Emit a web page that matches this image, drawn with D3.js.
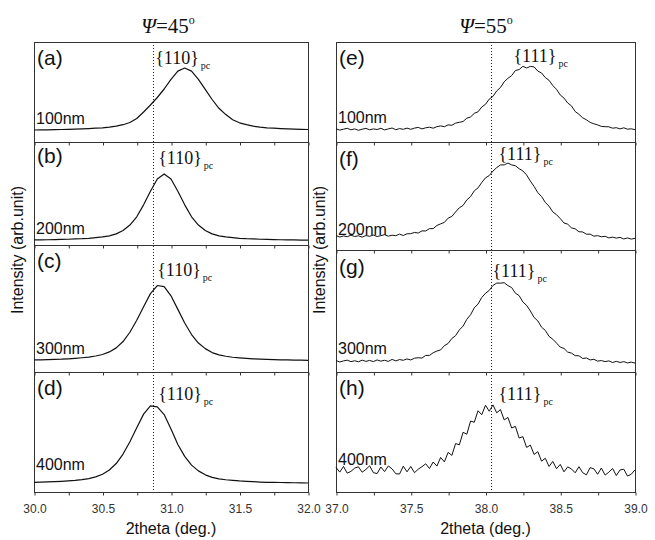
<!DOCTYPE html>
<html>
<head>
<meta charset="utf-8">
<script src="https://cdn.jsdelivr.net/npm/d3@7"></script>
<style>
  body { margin: 0; background: #fff; }
  svg { display: block; }
</style>
</head>
<body>
<svg id="chart" width="655" height="540"></svg>
<script>
// XRD 2theta scans at psi = 45 / 55 deg, films of 100-400 nm

// 2theta grids (deg.)
const thetaLeft = [
  30.00, 30.05, 30.10, 30.15, 30.20, 30.25, 30.30, 30.35, 30.40, 30.45,
  30.50, 30.55, 30.60, 30.65, 30.70, 30.75, 30.80, 30.85, 30.90, 30.95,
  31.00, 31.05, 31.10, 31.15, 31.20, 31.25, 31.30, 31.35, 31.40, 31.45,
  31.50, 31.55, 31.60, 31.65, 31.70, 31.75, 31.80, 31.85, 31.90, 31.95,
  32.00
];
const thetaRight = [
  37.000, 37.025, 37.050, 37.075, 37.100, 37.125, 37.150, 37.175, 37.200, 37.225,
  37.250, 37.275, 37.300, 37.325, 37.350, 37.375, 37.400, 37.425, 37.450, 37.475,
  37.500, 37.525, 37.550, 37.575, 37.600, 37.625, 37.650, 37.675, 37.700, 37.725,
  37.750, 37.775, 37.800, 37.825, 37.850, 37.875, 37.900, 37.925, 37.950, 37.975,
  38.000, 38.025, 38.050, 38.075, 38.100, 38.125, 38.150, 38.175, 38.200, 38.225,
  38.250, 38.275, 38.300, 38.325, 38.350, 38.375, 38.400, 38.425, 38.450, 38.475,
  38.500, 38.525, 38.550, 38.575, 38.600, 38.625, 38.650, 38.675, 38.700, 38.725,
  38.750, 38.775, 38.800, 38.825, 38.850, 38.875, 38.900, 38.925, 38.950, 38.975,
  39.000
];

// intensity (arb.unit, 0-100 per panel), psi = 45, {110}pc
const i110_100 = [
  12.0, 12.1, 12.2, 12.3, 12.5, 12.7, 12.9, 13.1, 13.4, 13.8,
  14.2, 14.9, 15.8, 17.3, 19.5, 23.5, 30.0, 37.0, 44.5, 53.0,
  62.7, 70.9, 74.0, 70.9, 62.7, 52.6, 42.5, 33.7, 27.4, 22.3,
  19.2, 17.3, 15.8, 14.9, 14.2, 13.8, 13.4, 13.1, 12.9, 12.7,
  12.5
];
const i110_200 = [
  4.9, 5.0, 5.1, 5.2, 5.4, 5.6, 5.9, 6.1, 6.5, 7.1,
  7.8, 8.9, 10.8, 14.0, 19.4, 27.4, 39.0, 52.2, 64.0, 69.0,
  64.0, 52.2, 39.0, 27.4, 19.4, 14.0, 10.8, 8.9, 7.8, 7.1,
  6.5, 6.1, 5.9, 5.6, 5.4, 5.2, 5.1, 5.0, 4.9, 4.8,
  4.7
];
const i110_300 = [
  9.5, 9.6, 9.8, 10.0, 10.1, 10.4, 10.8, 11.2, 11.7, 12.6,
  13.8, 15.8, 19.0, 24.0, 31.3, 40.7, 51.3, 61.7, 68.1, 67.2,
  60.0, 49.3, 38.6, 29.5, 22.8, 18.4, 15.3, 13.5, 12.4, 11.6,
  11.1, 10.7, 10.4, 10.1, 9.9, 9.7, 9.6, 9.5, 9.4, 9.3,
  9.2
];
const i110_400 = [
  8.0, 8.2, 8.4, 8.6, 8.9, 9.3, 9.7, 10.3, 11.2, 12.6,
  14.8, 18.3, 23.7, 31.6, 41.9, 53.5, 64.9, 71.8, 70.9, 64.5,
  52.5, 39.6, 29.7, 22.4, 17.6, 14.3, 12.2, 11.0, 10.2, 9.7,
  9.2, 8.9, 8.6, 8.3, 8.1, 8.0, 7.9, 7.8, 7.7, 7.6,
  7.5
];

// intensity (arb.unit, 0-100 per panel), psi = 55, {111}pc
const i111_100 = [
  13.2, 11.9, 12.8, 13.7, 12.2, 13.1, 11.7, 12.8, 13.6, 12.2,
  13.1, 12.5, 13.7, 12.1, 13.1, 14.0, 12.3, 13.4, 12.7, 13.9,
  12.7, 13.9, 14.6, 13.1, 14.2, 14.8, 13.8, 15.3, 16.1, 15.3,
  17.1, 16.7, 18.9, 19.7, 20.5, 23.8, 25.0, 28.7, 30.2, 35.0,
  37.7, 42.9, 45.6, 51.1, 54.5, 60.2, 63.7, 66.4, 71.5, 72.4,
  75.7, 74.0, 75.6, 75.1, 70.9, 69.0, 64.4, 61.7, 56.5, 52.7,
  47.0, 43.9, 39.0, 36.1, 30.5, 27.7, 24.2, 22.2, 19.6, 18.2,
  17.1, 15.6, 15.3, 15.2, 13.8, 14.3, 13.1, 14.2, 12.8, 13.2,
  12.3
];
const i111_200 = [
  13.3, 12.0, 13.0, 12.3, 13.7, 12.5, 13.2, 11.9, 13.4, 12.7,
  13.8, 12.5, 13.3, 14.2, 12.8, 13.7, 13.2, 14.7, 13.4, 15.0,
  15.1, 16.3, 15.7, 17.7, 17.6, 19.8, 19.8, 22.7, 24.2, 25.6,
  29.5, 31.1, 35.3, 39.1, 41.3, 46.4, 49.4, 54.8, 57.5, 62.5,
  66.8, 68.9, 73.1, 76.3, 78.8, 78.8, 80.5, 78.8, 78.0, 75.3,
  73.2, 69.5, 63.8, 58.9, 53.1, 49.5, 44.0, 40.6, 35.3, 32.7,
  29.1, 25.0, 23.9, 20.5, 19.6, 16.9, 16.7, 14.6, 14.7, 12.8,
  13.3, 12.2, 12.7, 11.2, 11.9, 11.0, 11.7, 10.2, 11.2, 10.1,
  10.8
];
const i111_300 = [
  9.4, 8.2, 9.1, 9.7, 8.5, 9.2, 8.4, 9.7, 8.7, 9.5,
  8.5, 9.9, 8.9, 9.6, 8.7, 10.3, 9.1, 10.2, 9.6, 10.7,
  9.9, 11.3, 11.7, 11.4, 13.6, 13.6, 15.8, 17.2, 18.1, 21.6,
  23.4, 27.5, 29.8, 34.5, 37.6, 43.2, 46.9, 52.6, 55.7, 61.1,
  64.5, 66.9, 70.9, 72.9, 72.8, 73.2, 70.8, 69.2, 64.6, 62.6,
  57.4, 54.6, 50.0, 44.7, 41.9, 36.7, 34.1, 29.2, 26.9, 23.7,
  20.4, 19.3, 16.3, 15.5, 13.4, 13.3, 11.1, 11.5, 9.9, 10.4,
  8.9, 9.4, 8.5, 9.1, 7.8, 8.7, 7.8, 8.5, 7.4, 8.1,
  7.3
];
const i111_400 = [
  20.5, 16.6, 21.3, 15.7, 17.2, 19.9, 21.0, 16.5, 18.8, 21.8,
  16.1, 15.4, 20.8, 17.0, 21.7, 19.3, 15.2, 15.0, 21.5, 16.8,
  21.3, 16.1, 19.0, 21.1, 23.5, 19.6, 25.0, 21.6, 28.8, 25.1,
  33.0, 30.5, 40.4, 39.3, 49.8, 48.1, 59.1, 58.1, 67.7, 64.4,
  72.3, 67.3, 72.6, 66.0, 68.7, 60.1, 62.1, 53.3, 54.7, 45.0,
  46.1, 37.1, 39.1, 31.3, 33.6, 25.7, 28.1, 21.3, 25.5, 19.4,
  23.0, 16.8, 20.9, 19.2, 16.0, 21.1, 16.1, 14.3, 20.3, 19.3,
  14.8, 20.0, 14.1, 16.5, 19.6, 13.7, 18.4, 19.0, 13.3, 14.8,
  18.5
];

const lettersLeft = ['(a)', '(b)', '(c)', '(d)'];
const lettersRight = ['(e)', '(f)', '(g)', '(h)'];
const thickness = ['100nm', '200nm', '300nm', '400nm'];

const ticksLeft = [30.0, 30.5, 31.0, 31.5, 32.0];
const ticksLeftAll = [30.0, 30.25, 30.5, 30.75, 31.0, 31.25, 31.5, 31.75, 32.0];
const ticksRight = [37.0, 37.5, 38.0, 38.5, 39.0];
const ticksRightAll = [37.0, 37.25, 37.5, 37.75, 38.0, 38.25, 38.5, 38.75, 39.0];

const refLeft = 30.87;   // dotted reference lines
const refRight = 38.04;

const svg = d3.select('#chart');
const SANS = 'Arial, "Liberation Sans", sans-serif';
const SERIF = '"Liberation Serif", "Times New Roman", serif';

function drawColumn(col) {
  const x = d3.scaleLinear().domain(col.domain).range([col.x0, col.x1]);
  const g = svg.append('g');

  col.curves.forEach((vals, i) => {
    const top = col.edges[i];
    const bottom = col.edges[i + 1];
    const y = d3.scaleLinear().domain([0, 100]).range([bottom, top]);

    // 프레임
    g.append('rect')
      .attr('x', col.x0 + 0.5).attr('y', top + 0.5)
      .attr('width', col.x1 - col.x0).attr('height', bottom - top)
      .attr('fill', 'none').attr('stroke', '#333').attr('stroke-width', 1);

    // ticks point down from each panel's bottom edge
    const axis = d3.axisBottom(x).tickValues(col.ticksAll).tickSize(3).tickSizeOuter(0)
      .tickFormat(i === 3 ? (d => col.ticks.includes(d) ? d3.format('.1f')(d) : '') : '');
    const ax = g.append('g').attr('transform', `translate(0.5,${bottom + 0.5})`).call(axis);
    ax.select('.domain').remove();
    ax.selectAll('line').attr('stroke', '#333');
    ax.selectAll('text').attr('font-family', SANS).attr('font-size', 12)
      .attr('fill', '#333').attr('dy', '1.2em');

    const line = d3.line()
      .x((d, j) => x(col.theta[j]))
      .y(d => y(d));
    g.append('path').datum(vals)
      .attr('d', line)
      .attr('fill', 'none').attr('stroke', '#111')
      .attr('stroke-width', col.lineWidth).attr('stroke-linejoin', 'round');

    g.append('text').attr('x', col.x0 + 3).attr('y', col.letterY[i])
      .attr('font-family', SANS).attr('font-size', 21).attr('fill', '#111')
      .text(col.letters[i]);

    g.append('text').attr('x', col.x0 + 2).attr('y', col.nmY[i])
      .attr('font-family', SANS).attr('font-size', 16).attr('fill', '#111')
      .text(thickness[i]);

    const pk = g.append('text')
      .attr('x', x(col.ref) + col.peakDx[i]).attr('y', col.peakY[i])
      .attr('font-family', SERIF).attr('font-size', 18).attr('fill', '#111');
    pk.append('tspan').text(col.hkl);
    pk.append('tspan').attr('dx', 2).attr('dy', 5).attr('font-size', 10).text('pc');
  });

  // dotted reference line
  g.append('line')
    .attr('x1', Math.round(x(col.ref)) + 0.5).attr('x2', Math.round(x(col.ref)) + 0.5)
    .attr('y1', col.edges[0]).attr('y2', col.edges[4])
    .attr('stroke', '#222').attr('stroke-width', 1).attr('stroke-dasharray', '1,2');

  // 2theta label
  g.append('text').attr('x', (col.x0 + col.x1) / 2).attr('y', 534)
    .attr('text-anchor', 'middle').attr('font-family', SANS).attr('font-size', 16)
    .attr('fill', '#111').text('2theta (deg.)');

  // y label
  g.append('text')
    .attr('transform', `translate(${col.x0 - 11},${col.yLabelY}) rotate(-90)`)
    .attr('text-anchor', 'middle').attr('font-family', SANS).attr('font-size', 16)
    .attr('fill', '#111').text('Intensity (arb.unit)');

  // psi title
  const t = g.append('text').attr('x', col.titleX).attr('y', 33)
    .attr('text-anchor', 'middle').attr('font-family', SERIF).attr('font-size', 21)
    .attr('fill', '#111');
  t.append('tspan').attr('font-style', 'italic').text('Ψ');
  t.append('tspan').text('=' + col.psi);
  t.append('tspan').attr('dy', -9).attr('font-size', 12).text('o');
}

drawColumn({
  domain: [30, 32], x0: 34, x1: 308, edges: [42, 142, 245, 372, 492],
  theta: thetaLeft, curves: [i110_100, i110_200, i110_300, i110_400],
  ticks: ticksLeft, ticksAll: ticksLeftAll, ref: refLeft, hkl: '{110}',
  letters: lettersLeft, letterY: [65, 163, 268, 395], nmY: [124, 234, 354, 470],
  peakDx: [2, 5, 4, 5], peakY: [64, 164, 276, 400],
  lineWidth: 1.2, yLabelY: 250, titleX: 168, psi: '45'
});

drawColumn({
  domain: [37, 39], x0: 336, x1: 635, edges: [42, 142, 250, 372, 492],
  theta: thetaRight, curves: [i111_100, i111_200, i111_300, i111_400],
  ticks: ticksRight, ticksAll: ticksRightAll, ref: refRight, hkl: '{111}',
  letters: lettersRight, letterY: [65, 166, 274, 395], nmY: [123, 235, 354, 465],
  peakDx: [22, 7, 1, 7], peakY: [62, 160, 277, 400],
  lineWidth: 1, yLabelY: 250, titleX: 486, psi: '55'
});
</script>
</body>
</html>
